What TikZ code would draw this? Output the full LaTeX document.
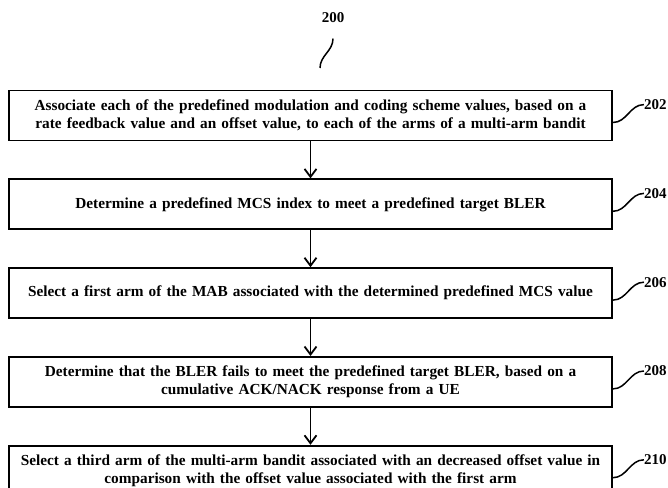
\documentclass[tikz,border=0pt]{standalone}
\usepackage{fontspec}
\setmainfont{Liberation Serif}
\usetikzlibrary{positioning,arrows.meta}

\tikzset{
  stepbox/.style={draw, line width=1.8pt, minimum width=603pt, minimum height=50pt,
    text width=595pt, align=center, font=\fontsize{15.3}{18}\selectfont\bfseries, inner sep=1pt},
  reflabel/.style={anchor=west, font=\fontsize{15}{17}\selectfont\bfseries, inner sep=0pt},
  squig/.style={line width=1.5pt, out=0, in=180}
}

\begin{document}
\begin{tikzpicture}[x=1pt, y=-1pt, node distance=37pt, >={Straight Barb[length=8pt,width=12pt]}]
    \useasboundingbox (0,0) rectangle (668,487);
    \clip (0,0) rectangle (668,487);

    \node [stepbox] at (310.5,115.5) (b202) {Associate each of the predefined modulation and coding scheme values, based on a\\ rate feedback value and an offset value, to each of the arms of a multi-arm bandit};
    \node [stepbox, below=of b202] (b204) {Determine a predefined MCS index to meet a predefined target BLER};
    \node [stepbox, below=of b204] (b206) {Select a first arm of the MAB associated with the determined predefined MCS value};
    \node [stepbox, below=of b206] (b208) {Determine that the BLER fails to meet the predefined target BLER, based on a\\ cumulative ACK/NACK response from a UE};
    \node [stepbox, below=of b208] (b210) {Select a third arm of the multi-arm bandit associated with an decreased offset value in\\ comparison with the offset value associated with the first arm};

    \draw [->, line width=1.8pt] (b202) -- (b204);
    \draw [->, line width=1.8pt] (b204) -- (b206);
    \draw [->, line width=1.8pt] (b206) -- (b208);
    \draw [->, line width=1.8pt] (b208) -- (b210);

    % reference numerals
    \node [font=\fontsize{15}{17}\selectfont\bfseries] at (333,18) (l200) {200};
    \coordinate (c200) at (320,68);
    \draw [line width=1.5pt] (c200) to[out=90, in=-90] ([yshift=-12pt]l200.south);

    \node [reflabel] at ([shift={(31pt,-15pt)}]b202.north east) (l202) {202};
    \node [reflabel] at ([shift={(31pt,-15pt)}]b204.north east) (l204) {204};
    \node [reflabel] at ([shift={(31pt,-15pt)}]b206.north east) (l206) {206};
    \node [reflabel] at ([shift={(31pt,-15pt)}]b208.north east) (l208) {208};
    \node [reflabel] at ([shift={(31pt,-15pt)}]b210.north east) (l210) {210};

    \draw [squig] ([yshift=-7pt]b202.east) to (l202.west);
    \draw [squig] ([yshift=-7pt]b204.east) to (l204.west);
    \draw [squig] ([yshift=-7pt]b206.east) to (l206.west);
    \draw [squig] ([yshift=-7pt]b208.east) to (l208.west);
    \draw [squig] ([yshift=-7pt]b210.east) to (l210.west);
\end{tikzpicture}
\end{document}
